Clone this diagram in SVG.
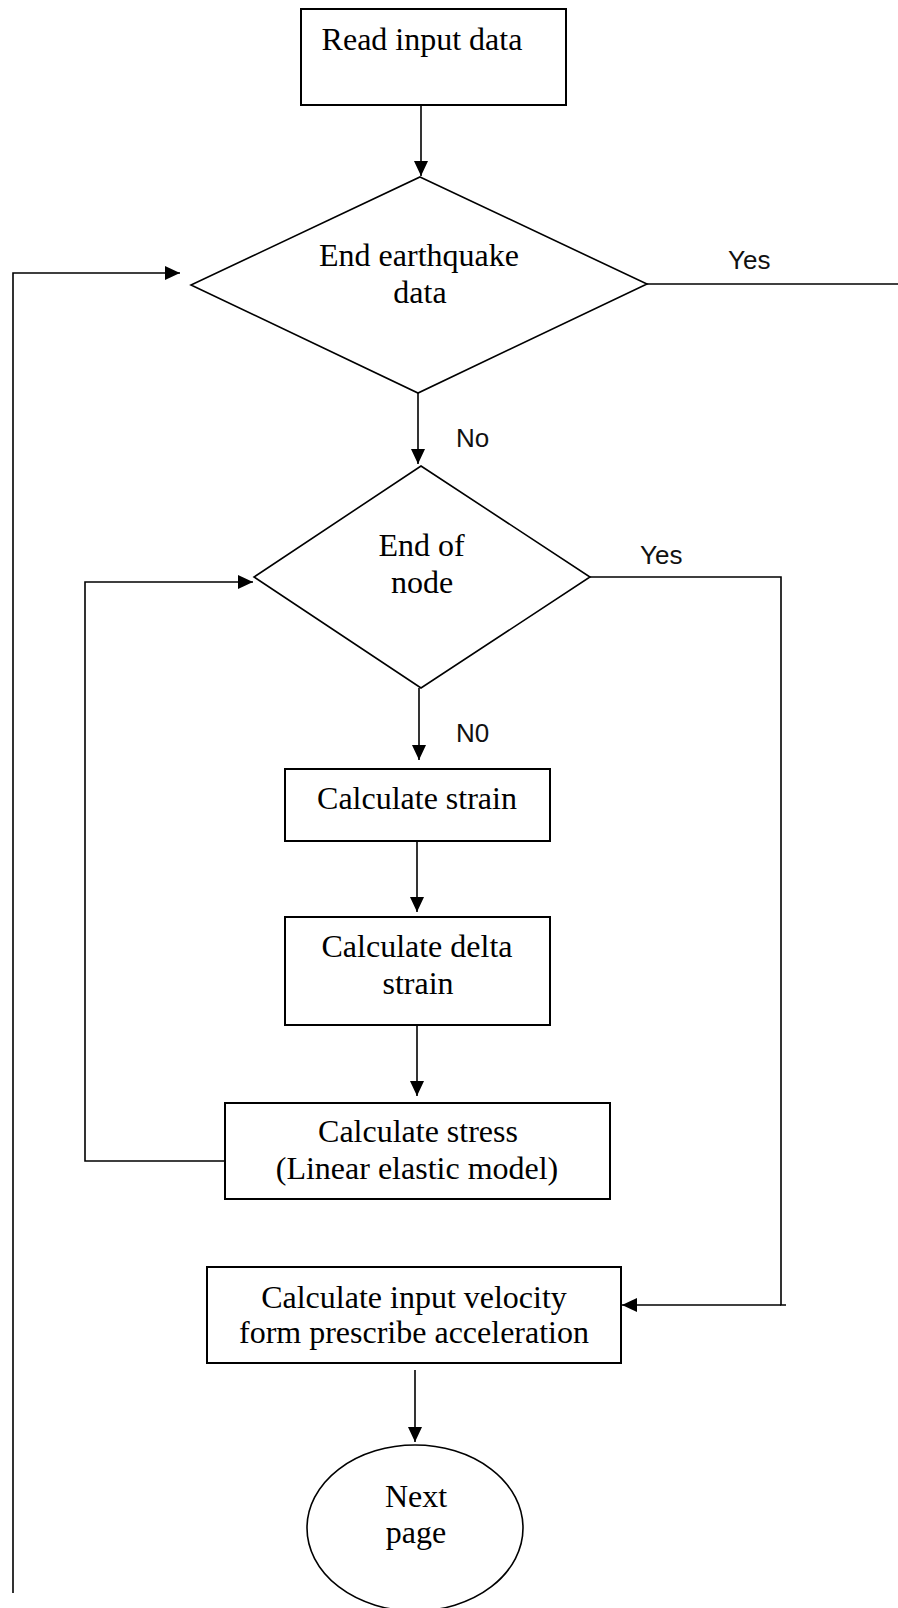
<svg xmlns="http://www.w3.org/2000/svg" width="898" height="1608" viewBox="0 0 898 1608">
<style>
.box{fill:#fff;stroke:#000;stroke-width:2}
.dia{fill:#fff;stroke:#000;stroke-width:1.6}
.t{font-family:"Liberation Serif","Times New Roman",serif;font-size:32px;fill:#000;text-anchor:middle}
.lbl{font-family:"Liberation Sans",Arial,sans-serif;font-size:26px;fill:#111}
.c{fill:none;stroke:#000;stroke-width:1.6}
</style>
<defs>
<marker id="ah" markerUnits="userSpaceOnUse" markerWidth="15" markerHeight="14" refX="15" refY="7" orient="auto">
<path d="M0,0 L15,7 L0,14 z" fill="#000"/>
</marker>
</defs>
<rect width="898" height="1608" fill="#fff"/>
<g id="connectors">
<line class="c" x1="421" y1="105" x2="421" y2="176" marker-end="url(#ah)"/>
<polyline class="c" points="13,1593 13,273 180,273" marker-end="url(#ah)"/>
<line class="c" x1="647" y1="284" x2="898" y2="284"/>
<line class="c" x1="418" y1="393" x2="418" y2="464" marker-end="url(#ah)"/>
<polyline class="c" points="230,1161 85,1161 85,582 253,582" marker-end="url(#ah)"/>
<polyline class="c" points="590,577 781,577 781,1305 786,1305"/>
<line class="c" x1="781" y1="1305" x2="622" y2="1305" marker-end="url(#ah)"/>
<line class="c" x1="419" y1="688" x2="419" y2="760" marker-end="url(#ah)"/>
<line class="c" x1="417" y1="841" x2="417" y2="912" marker-end="url(#ah)"/>
<line class="c" x1="417" y1="1025" x2="417" y2="1096" marker-end="url(#ah)"/>
<line class="c" x1="415" y1="1370" x2="415" y2="1442" marker-end="url(#ah)"/>
<text class="lbl" x="728" y="269">Yes</text>
<text class="lbl" x="456" y="447">No</text>
<text class="lbl" x="640" y="564">Yes</text>
<text class="lbl" x="456" y="742">N0</text>
</g>
<g id="read-input">
<rect class="box" x="301" y="9" width="265" height="96"/>
<text class="t" x="422" y="50">Read input data</text>
</g>
<g id="end-earthquake">
<polygon class="dia" points="420,177 647,284 418,393 191,285"/>
<text class="t" x="419" y="266">End earthquake</text>
<text class="t" x="420" y="303">data</text>
</g>
<g id="end-node">
<polygon class="dia" points="421,466 590,577 421,688 254,577"/>
<text class="t" x="421.5" y="556">End of</text>
<text class="t" x="422" y="593">node</text>
</g>
<g id="calc-strain">
<rect class="box" x="285" y="769" width="265" height="72"/>
<text class="t" x="417" y="809">Calculate strain</text>
</g>
<g id="calc-delta">
<rect class="box" x="285" y="917" width="265" height="108"/>
<text class="t" x="417" y="957">Calculate delta</text>
<text class="t" x="418" y="994">strain</text>
</g>
<g id="calc-stress">
<rect class="box" x="225" y="1103" width="385" height="96"/>
<text class="t" x="418" y="1142">Calculate stress</text>
<text class="t" x="417" y="1179">(Linear elastic model)</text>
</g>
<g id="calc-velocity">
<rect class="box" x="207" y="1267" width="414" height="96"/>
<text class="t" x="414" y="1308">Calculate input velocity</text>
<text class="t" x="414" y="1343">form prescribe acceleration</text>
</g>
<g id="next-page">
<ellipse cx="415" cy="1528" rx="108" ry="83" fill="#fff" stroke="#000" stroke-width="1.6"/>
<text class="t" x="416" y="1507">Next</text>
<text class="t" x="416" y="1543">page</text>
</g>
</svg>
